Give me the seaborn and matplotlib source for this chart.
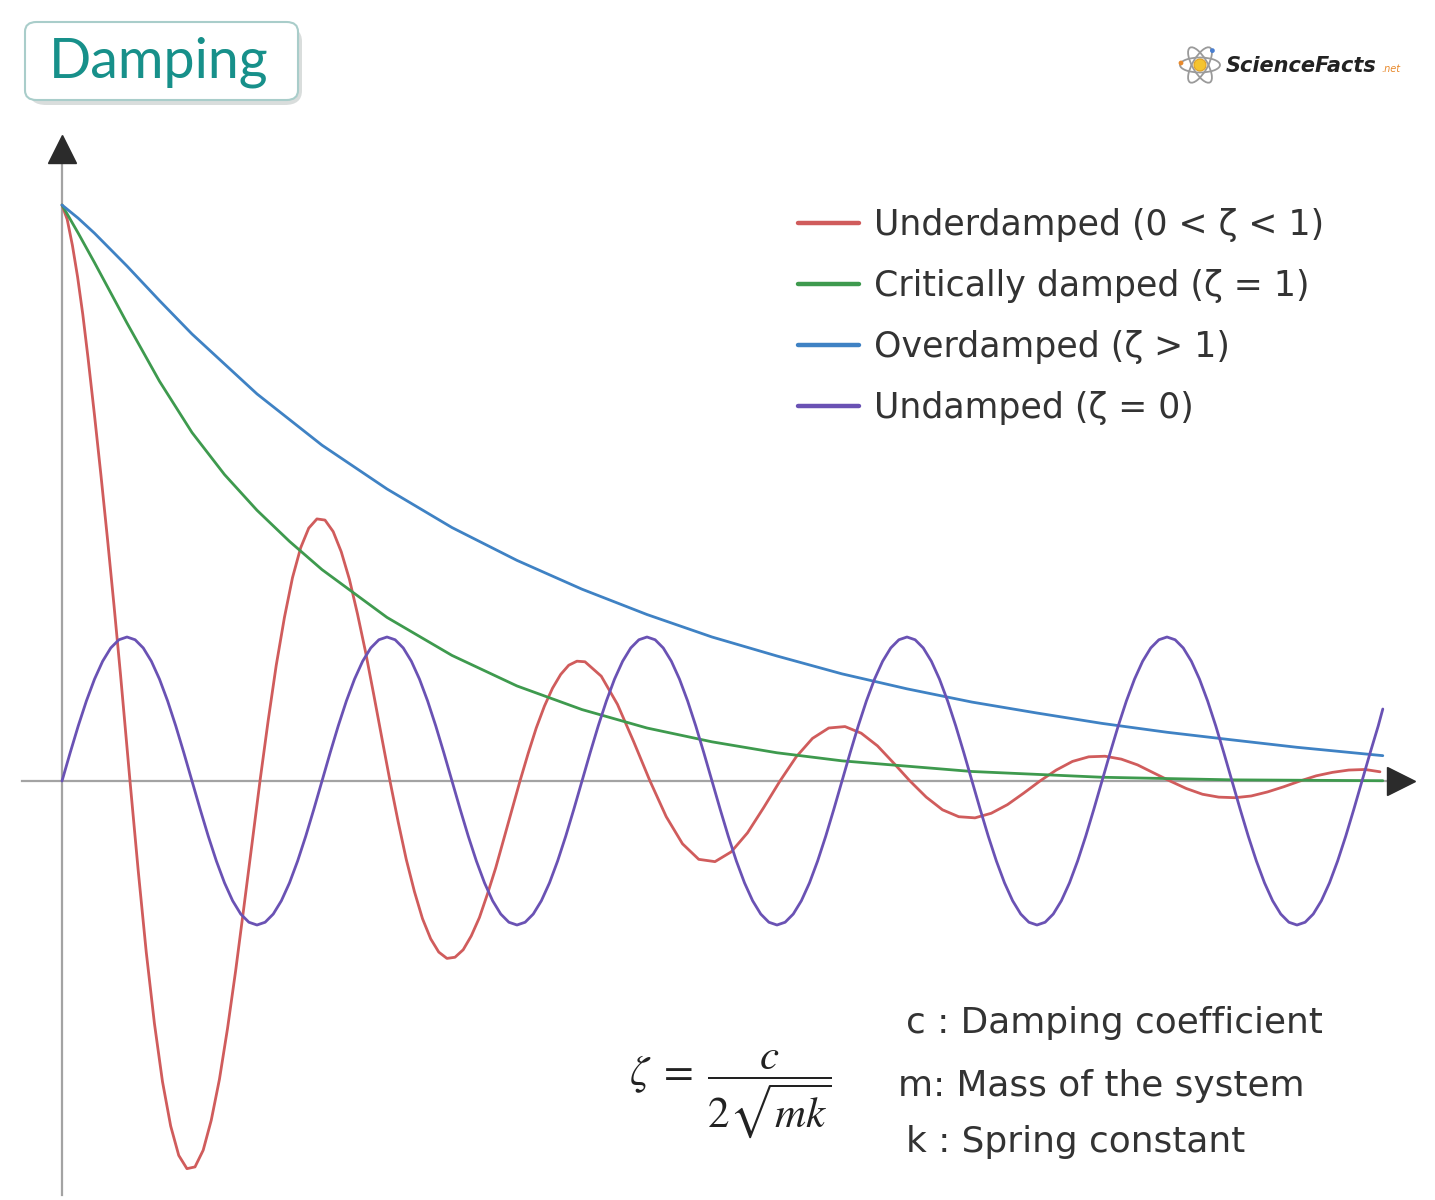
import matplotlib
matplotlib.use("Agg")
import matplotlib.pyplot as plt
import seaborn as sns
import pandas as pd
from matplotlib.patches import FancyBboxPatch, Ellipse, Circle

# ---------------- data ----------------
series_names = ["Underdamped (0 < ζ < 1)", "Critically damped (ζ = 1)",
                "Overdamped (ζ > 1)", "Undamped (ζ = 0)"]
series_colors = ["#d05c5c", "#3e9a4e", "#3f82c4", "#6a52b4"]

under_t = [0, 0.04, 0.08, 0.12, 0.16, 0.2, 0.25, 0.3, 0.35, 0.4, 0.45,
           0.523, 0.586, 0.648, 0.711, 0.773, 0.836, 0.898, 0.961,
           1.023, 1.086, 1.148, 1.211, 1.273, 1.336, 1.398, 1.461,
           1.523, 1.586, 1.648, 1.711, 1.773, 1.836, 1.898, 1.961,
           2.023, 2.086, 2.148, 2.211, 2.273, 2.336, 2.398, 2.461,
           2.523, 2.586, 2.648, 2.711, 2.773, 2.836, 2.898, 2.961,
           3.023, 3.086, 3.148, 3.211, 3.273, 3.336, 3.398, 3.461,
           3.523, 3.586, 3.648, 3.711, 3.773, 3.836, 3.898, 3.961,
           4.023, 4.148, 4.273, 4.398, 4.523, 4.648, 4.773, 4.898,
           5.023, 5.148, 5.273, 5.398, 5.523, 5.648, 5.773, 5.898,
           6.023, 6.148, 6.273, 6.398, 6.523, 6.648, 6.773, 6.898,
           7.023, 7.148, 7.273, 7.398, 7.523, 7.648, 7.773, 7.898,
           8.023, 8.148, 8.273, 8.398, 8.523, 8.648, 8.773, 8.898,
           9.023, 9.148, 9.273, 9.398, 9.523, 9.648, 9.773, 9.898,
           10.023, 10.138]
under_y = [1.0, 0.975, 0.93, 0.875, 0.81, 0.735, 0.635, 0.53, 0.42, 0.305, 0.185,
           0.0, -0.155, -0.297, -0.421, -0.522, -0.599, -0.650, -0.673,
           -0.670, -0.641, -0.589, -0.518, -0.430, -0.329, -0.221, -0.110,
           0.0, 0.105, 0.201, 0.284, 0.353, 0.405, 0.439, 0.455,
           0.453, 0.433, 0.398, 0.350, 0.290, 0.223, 0.150, 0.074,
           0.0, -0.071, -0.136, -0.192, -0.239, -0.274, -0.297, -0.308,
           -0.306, -0.293, -0.269, -0.237, -0.196, -0.151, -0.101, -0.050,
           0.0, 0.048, 0.092, 0.130, 0.161, 0.185, 0.201, 0.208,
           0.207, 0.182, 0.133, 0.068, 0.0, -0.062, -0.109, -0.136,
           -0.140, -0.123, -0.090, -0.046, 0.0, 0.042, 0.074, 0.092,
           0.0945, 0.083, 0.061, 0.031, 0.0, -0.028, -0.050, -0.062,
           -0.064, -0.056, -0.041, -0.021, 0.0, 0.019, 0.034, 0.042,
           0.043, 0.038, 0.028, 0.014, 0.0, -0.013, -0.023, -0.028,
           -0.029, -0.026, -0.019, -0.010, 0.0, 0.009, 0.015, 0.019,
           0.020, 0.016]

crit_t = [0, 0.125, 0.25, 0.5, 0.75, 1.0, 1.25, 1.5, 1.75, 2.0, 2.5, 3.0, 3.5, 4.0,
          4.5, 5.0, 5.5, 6.0, 7.0, 8.0, 9.0, 10.16]
crit_y = [1.0, 0.951, 0.900, 0.795, 0.694, 0.605, 0.532, 0.470, 0.416, 0.367, 0.284,
          0.218, 0.165, 0.124, 0.092, 0.068, 0.049, 0.035, 0.0165, 0.0065,
          0.002, 0.0005]

over_t = [0, 0.125, 0.25, 0.5, 0.75, 1.0, 1.5, 2.0, 2.5, 3.0, 3.5, 4.0, 4.5, 5.0,
          5.5, 6.0, 6.5, 7.0, 7.5, 8.0, 8.5, 9.0, 9.5, 10.0, 10.16]
over_y = [1.0, 0.977, 0.951, 0.894, 0.834, 0.776, 0.672, 0.583, 0.507, 0.440, 0.383,
          0.333, 0.289, 0.250, 0.217, 0.186, 0.160, 0.137, 0.118, 0.100,
          0.0846, 0.0714, 0.0585, 0.0475, 0.044]

undamped_t = [
    0.0, 0.0625, 0.125, 0.1875, 0.25, 0.3125, 0.375, 0.4375, 0.5, 0.5625, 0.625, 0.6875, 0.75, 0.8125, 0.875, 0.9375,
    1.0, 1.0625, 1.125, 1.1875, 1.25, 1.3125, 1.375, 1.4375, 1.5, 1.5625, 1.625, 1.6875, 1.75, 1.8125, 1.875, 1.9375,
    2.0, 2.0625, 2.125, 2.1875, 2.25, 2.3125, 2.375, 2.4375, 2.5, 2.5625, 2.625, 2.6875, 2.75, 2.8125, 2.875, 2.9375,
    3.0, 3.0625, 3.125, 3.1875, 3.25, 3.3125, 3.375, 3.4375, 3.5, 3.5625, 3.625, 3.6875, 3.75, 3.8125, 3.875, 3.9375,
    4.0, 4.0625, 4.125, 4.1875, 4.25, 4.3125, 4.375, 4.4375, 4.5, 4.5625, 4.625, 4.6875, 4.75, 4.8125, 4.875, 4.9375,
    5.0, 5.0625, 5.125, 5.1875, 5.25, 5.3125, 5.375, 5.4375, 5.5, 5.5625, 5.625, 5.6875, 5.75, 5.8125, 5.875, 5.9375,
    6.0, 6.0625, 6.125, 6.1875, 6.25, 6.3125, 6.375, 6.4375, 6.5, 6.5625, 6.625, 6.6875, 6.75, 6.8125, 6.875, 6.9375,
    7.0, 7.0625, 7.125, 7.1875, 7.25, 7.3125, 7.375, 7.4375, 7.5, 7.5625, 7.625, 7.6875, 7.75, 7.8125, 7.875, 7.9375,
    8.0, 8.0625, 8.125, 8.1875, 8.25, 8.3125, 8.375, 8.4375, 8.5, 8.5625, 8.625, 8.6875, 8.75, 8.8125, 8.875, 8.9375,
    9.0, 9.0625, 9.125, 9.1875, 9.25, 9.3125, 9.375, 9.4375, 9.5, 9.5625, 9.625, 9.6875, 9.75, 9.8125, 9.875, 9.9375,
    10.0, 10.0625, 10.125, 10.16]
undamped_y = [
    0.0, 0.0488, 0.0957, 0.1389, 0.1768, 0.2079, 0.2310, 0.2452, 0.25, 0.2452, 0.2310, 0.2079, 0.1768, 0.1389, 0.0957, 0.0488,
    0.0, -0.0488, -0.0957, -0.1389, -0.1768, -0.2079, -0.2310, -0.2452, -0.25, -0.2452, -0.2310, -0.2079, -0.1768, -0.1389, -0.0957, -0.0488,
    0.0, 0.0488, 0.0957, 0.1389, 0.1768, 0.2079, 0.2310, 0.2452, 0.25, 0.2452, 0.2310, 0.2079, 0.1768, 0.1389, 0.0957, 0.0488,
    0.0, -0.0488, -0.0957, -0.1389, -0.1768, -0.2079, -0.2310, -0.2452, -0.25, -0.2452, -0.2310, -0.2079, -0.1768, -0.1389, -0.0957, -0.0488,
    0.0, 0.0488, 0.0957, 0.1389, 0.1768, 0.2079, 0.2310, 0.2452, 0.25, 0.2452, 0.2310, 0.2079, 0.1768, 0.1389, 0.0957, 0.0488,
    0.0, -0.0488, -0.0957, -0.1389, -0.1768, -0.2079, -0.2310, -0.2452, -0.25, -0.2452, -0.2310, -0.2079, -0.1768, -0.1389, -0.0957, -0.0488,
    0.0, 0.0488, 0.0957, 0.1389, 0.1768, 0.2079, 0.2310, 0.2452, 0.25, 0.2452, 0.2310, 0.2079, 0.1768, 0.1389, 0.0957, 0.0488,
    0.0, -0.0488, -0.0957, -0.1389, -0.1768, -0.2079, -0.2310, -0.2452, -0.25, -0.2452, -0.2310, -0.2079, -0.1768, -0.1389, -0.0957, -0.0488,
    0.0, 0.0488, 0.0957, 0.1389, 0.1768, 0.2079, 0.2310, 0.2452, 0.25, 0.2452, 0.2310, 0.2079, 0.1768, 0.1389, 0.0957, 0.0488,
    0.0, -0.0488, -0.0957, -0.1389, -0.1768, -0.2079, -0.2310, -0.2452, -0.25, -0.2452, -0.2310, -0.2079, -0.1768, -0.1389, -0.0957, -0.0488,
    0.0, 0.0488, 0.0957, 0.125]

title_text = "Damping"
formula_text = r"$\zeta\;=\;\dfrac{c}{2\sqrt{mk}}$"
notes = ["c : Damping coefficient", "m: Mass of the system", "k : Spring constant"]

# ---------------- build table ----------------
frames = []
for name, tt, yy in zip(series_names, [under_t, crit_t, over_t, undamped_t],
                        [under_y, crit_y, over_y, undamped_y]):
    frames.append(pd.DataFrame({"t": tt, "y": yy, "series": name}))
df = pd.concat(frames, ignore_index=True)

# ---------------- style ----------------
sns.set_theme(style="white")
plt.rcParams["font.family"] = ["DejaVu Sans"]
plt.rcParams["mathtext.fontset"] = "stix"

W, H = 1435, 1200
fig = plt.figure(figsize=(W / 100, H / 100), dpi=100)
fig.patch.set_facecolor("white")

# axes placed so that the origin sits at px (62, 781)
ax_l, ax_r, ax_t, ax_b = 22, 1401, 149, 1195
ax = fig.add_axes([ax_l / W, (H - ax_b) / H, (ax_r - ax_l) / W, (ax_b - ax_t) / H])
ax.set_facecolor("none")
px_per_t, px_per_y, x0, y0 = 130.0, 576.0, 62, 781
ax.set_xlim((ax_l - x0) / px_per_t, (ax_r - x0) / px_per_t)
ax.set_ylim((y0 - ax_b) / px_per_y, (y0 - ax_t) / px_per_y)

sns.lineplot(data=df, x="t", y="y", hue="series", hue_order=series_names,
             palette=series_colors, estimator=None, sort=False,
             linewidth=2.0, ax=ax)
for ln in ax.get_lines():
    ln.set_solid_joinstyle("round")
    ln.set_solid_capstyle("round")

# axes as arrows through the origin
for s in ["top", "right"]:
    ax.spines[s].set_visible(False)
ax.spines["left"].set_position(("data", 0))
ax.spines["bottom"].set_position(("data", 0))
for s in ["left", "bottom"]:
    ax.spines[s].set_color("#a3a3a3")
    ax.spines[s].set_linewidth(1.6)
    ax.spines[s].set_zorder(1)
ax.set_xticks([])
ax.set_yticks([])
ax.set_xlabel("")
ax.set_ylabel("")
ax.plot(1, 0, ">", color="#2b2b2b", markersize=20, transform=ax.get_yaxis_transform(),
        clip_on=False)
ax.plot(0, 1, "^", color="#2b2b2b", markersize=20, transform=ax.get_xaxis_transform(),
        clip_on=False)

# legend
handles, labels = ax.get_legend_handles_labels()
leg = ax.legend(handles, labels, loc="upper left",
                bbox_to_anchor=(798 / W, 1 - 208 / H), bbox_transform=fig.transFigure,
                frameon=False, fontsize=25, handlelength=1.75, handletextpad=0.45,
                labelspacing=0.78, borderpad=0, borderaxespad=0)
for line in leg.get_lines():
    line.set_linewidth(3.2)
for txt in leg.get_texts():
    txt.set_color("#333333")

# formula and notes
fig.text(730 / W, 1 - 1094 / H, formula_text, fontsize=31, ha="center", va="center",
         color="#222222")
note_x = [906, 898, 906]
note_y = [1023, 1086, 1142]
for s, xx, yy in zip(notes, note_x, note_y):
    fig.text(xx / W, 1 - yy / H, s, fontsize=25.8, ha="left", va="center", color="#333333")

# title box with shadow
bx0, by0, bx1, by1 = 25, 22, 298, 100
shadow = FancyBboxPatch(((bx0 + 4) / W, 1 - (by1 + 5) / H), (bx1 - bx0) / W, (by1 - by0) / H,
                        boxstyle="round,pad=0,rounding_size=0.012",
                        transform=fig.transFigure, facecolor="#c9cfce", edgecolor="none",
                        alpha=0.7, zorder=1)
box = FancyBboxPatch((bx0 / W, 1 - by1 / H), (bx1 - bx0) / W, (by1 - by0) / H,
                     boxstyle="round,pad=0,rounding_size=0.008",
                     transform=fig.transFigure, facecolor="white", edgecolor="#a9cdca",
                     linewidth=1.5, zorder=2)
fig.patches.extend([shadow, box])
fig.text(159 / W, 1 - 62 / H, title_text, fontsize=40, ha="center", va="center",
         color="#17908a", family=["Lato", "DejaVu Sans"], zorder=3)

# logo: atom icon + wordmark
lg = fig.add_axes([1178 / W, 1 - 87 / H, 44 / W, 44 / H])
lg.set_xlim(-1.1, 1.1)
lg.set_ylim(-1.1, 1.1)
lg.set_aspect("equal")
lg.axis("off")
for ang in (0, 60, 120):
    lg.add_patch(Ellipse((0, 0), 2.0, 0.75, angle=ang, fill=False,
                         edgecolor="#9a9a9a", linewidth=1.3))
lg.add_patch(Circle((0, 0), 0.3, facecolor="#f4c430", edgecolor="#e0a020", linewidth=0.8))
lg.add_patch(Circle((0.62, 0.72), 0.12, facecolor="#4a7fd0", edgecolor="none"))
lg.add_patch(Circle((-0.95, 0.1), 0.12, facecolor="#e8892b", edgecolor="none"))
fig.text(1226 / W, 1 - 66 / H, "ScienceFacts", fontsize=15, ha="left", va="center",
         color="#222222", fontstyle="italic", fontweight="bold")
fig.text(1381 / W, 1 - 69 / H, ".net", fontsize=7, ha="left", va="center",
         color="#e8892b", fontstyle="italic")

fig.savefig("out.png", dpi=100, facecolor="white")
